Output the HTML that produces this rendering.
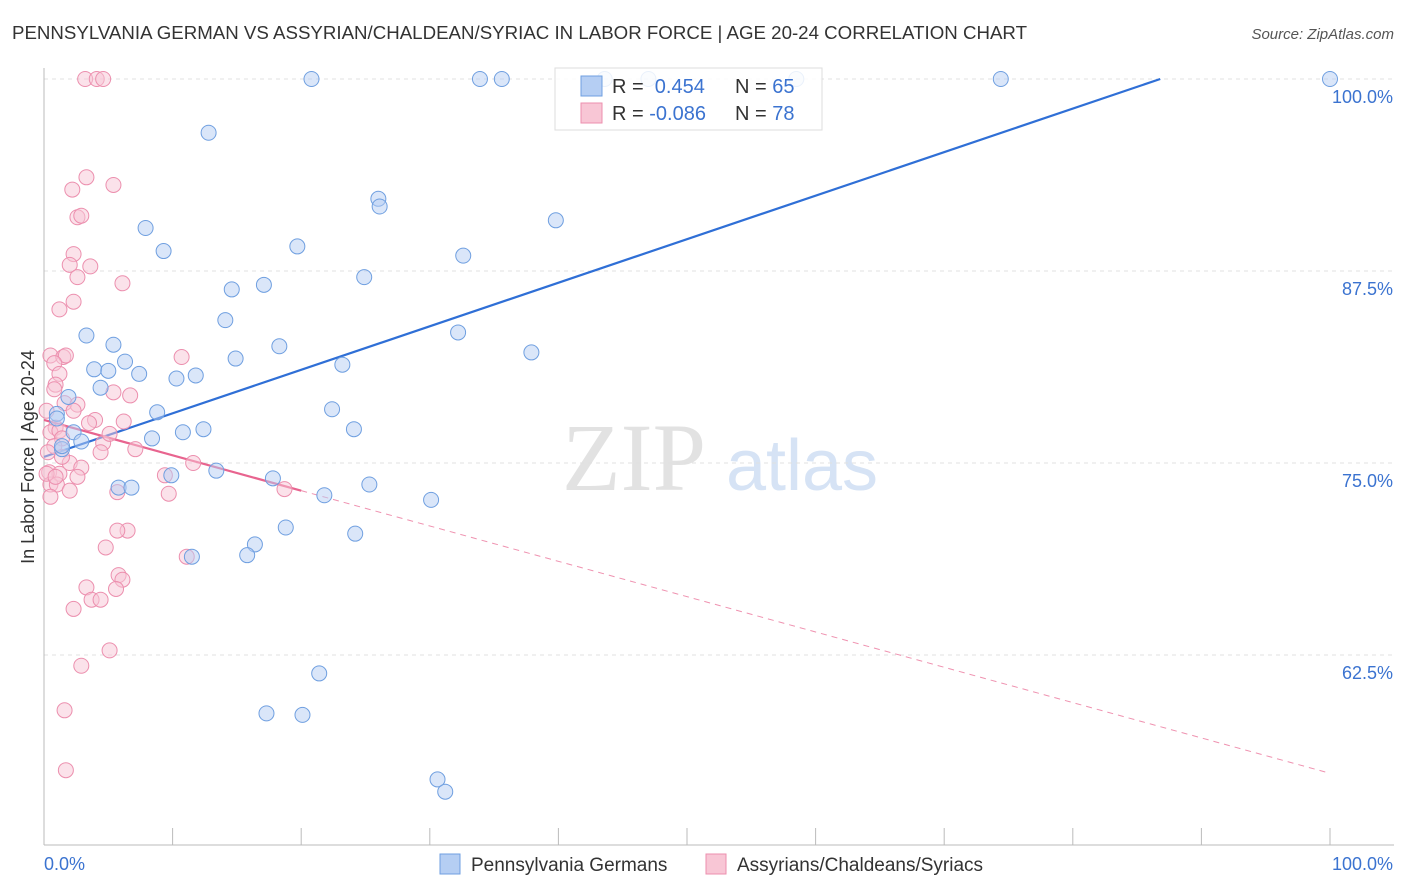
<!DOCTYPE html>
<html><head><meta charset="utf-8"><style>
body{margin:0;background:#fff;font-family:"Liberation Sans",sans-serif;}
svg{display:block}
</style></head><body>
<svg id="chart" width="1406" height="892" xmlns="http://www.w3.org/2000/svg">
<text x="12" y="39" font-size="18" fill="#333" textLength="1015" lengthAdjust="spacingAndGlyphs">PENNSYLVANIA GERMAN VS ASSYRIAN/CHALDEAN/SYRIAC IN LABOR FORCE | AGE 20-24 CORRELATION CHART</text>
<text x="1394" y="39" font-size="15" fill="#555" font-style="italic" text-anchor="end">Source: ZipAtlas.com</text>
<text x="34" y="457" font-size="18" fill="#333" text-anchor="middle" transform="rotate(-90 34 457)">In Labor Force | Age 20-24</text>
<g><text x="634" y="490" font-size="96" fill="#e2e2e2" font-family="Liberation Serif,serif" text-anchor="middle">ZIP</text><text x="802" y="490" font-size="72" fill="#d6e3f5" text-anchor="middle">atlas</text></g>
<g id="grid"></g><g id="axes"></g><g id="lines"></g><g id="pts"></g>
<g>
<rect x="555" y="68" width="267" height="62" fill="#fff" fill-opacity="0.85" stroke="#ddd"/>
<rect x="581" y="76" width="21" height="20" fill="#b5cef3" stroke="#6f9fe0"/>
<rect x="581" y="103" width="21" height="20" fill="#f8c6d5" stroke="#ec8fae"/>
<text x="612" y="93" font-size="20" fill="#333">R = <tspan fill="#3b73d0">&#160;0.454</tspan><tspan x="735">N = </tspan><tspan fill="#3b73d0">65</tspan></text>
<text x="612" y="120" font-size="20" fill="#333">R = <tspan fill="#3b73d0">-0.086</tspan><tspan x="735">N = </tspan><tspan fill="#3b73d0">78</tspan></text>
</g>
<g>
<rect x="440" y="854" width="20" height="20" fill="#b5cef3" stroke="#6f9fe0"/>
<text x="471" y="871" font-size="19" fill="#333">Pennsylvania Germans</text>
<rect x="706" y="854" width="20" height="20" fill="#f8c6d5" stroke="#ec8fae"/>
<text x="737" y="871" font-size="19" fill="#333">Assyrians/Chaldeans/Syriacs</text>
</g>
</svg>
<script>
const yTicks=[100,87.5,75,62.5];
const yTickLabels=["100.0%","87.5%","75.0%","62.5%"];
const blueX=[20.8,33.9,35.6,43.6,47,58.5,74.4,100,12.8,26,26.1,39.8,7.9,9.3,19.7,32.6,24.9,14.6,17.1,14.1,32.2,3.3,5.4,18.3,37.9,14.9,6.3,3.9,5,23.2,7.4,10.3,11.8,4.4,1.9,8.8,22.4,1,24.1,12.4,10.8,8.4,2.3,2.9,1.4,9.9,13.4,17.8,25.3,5.8,6.8,21.8,30.1,18.8,24.2,16.4,15.8,11.5,21.4,17.3,20.1,30.6,31.2,1,1.4];
const blueY=[100,100,100,100,100,100,100,100,96.5,92.2,91.7,90.8,90.3,88.8,89.1,88.5,87.1,86.3,86.6,84.3,83.5,83.3,82.7,82.6,82.2,81.8,81.6,81.1,81,81.4,80.8,80.5,80.7,79.9,79.3,78.3,78.5,78.2,77.2,77.2,77,76.6,77,76.4,75.9,74.2,74.5,74,73.6,73.4,73.4,72.9,72.6,70.8,70.4,69.7,69,68.9,61.3,58.7,58.6,54.4,53.6,77.9,76.1];
const pinkX=[3.2,4.1,4.6,3.3,5.4,2.2,2.6,2.9,2.3,2,3.6,2.6,6.1,2.3,1.2,0.5,1.5,1.7,10.7,0.8,1.2,0.9,0.8,5.4,6.7,1.6,2.6,0.2,2.3,3.970,3.5,0.9,0.5,1.2,4.6,7.1,1.4,0.8,0.3,4.4,2,2.9,9.4,11.6,0.4,1.2,2.6,0.5,1,5.7,9.7,2,0.5,18.7,6.5,5.7,4.8,11.1,5.8,6.1,3.3,5.6,3.7,4.4,2.3,5.1,2.9,1.6,1.7,0.2,0.9,1.4,5.1,6.2];
const pinkY=[100,100,100,93.6,93.1,92.8,91,91.1,88.6,87.9,87.8,87.1,86.7,85.5,85,82,81.9,82,81.9,81.5,80.8,80.1,79.8,79.6,79.4,78.9,78.8,78.4,78.4,77.8,77.6,77.3,77,77.1,76.3,75.9,76.6,76.1,75.7,75.7,75,74.7,74.2,75,74.4,74.3,74.1,73.6,73.6,73.1,73,73.2,72.8,73.3,70.6,70.6,69.5,68.9,67.7,67.4,66.9,66.8,66.1,66.1,65.5,62.8,61.8,58.9,55,74.3,74.1,75.4,76.9,77.7];
const blueLine=[0,75.4,86.8,100];
const pinkLine=[0,77.8,100,54.8];
const pinkSolidEnd=20;
const X=v=>44+v*12.86, Y=v=>79+(100-v)*192/12.5;
const NS="http://www.w3.org/2000/svg";
function mk(p,t,a){const e=document.createElementNS(NS,t);for(const k in a)e.setAttribute(k,a[k]);p.appendChild(e);return e;}
const grid=document.getElementById('grid'),axes=document.getElementById('axes'),lines=document.getElementById('lines'),pts=document.getElementById('pts');
yTicks.forEach((t,i)=>{
 const g=mk(grid,'line',{x1:44,x2:1394,y1:Y(t),y2:Y(t),stroke:'#e0e0e0','stroke-dasharray':'4 4'});
 
 
 const l=mk(axes,'text',{x:1393,y:Y(t)+24,'font-size':18,fill:'#3b73d0','text-anchor':'end'});l.textContent=yTickLabels[i];
 
 
});
const ya=mk(axes,'line',{x1:44,x2:44,y1:68,y2:845,stroke:'#bbb'});


const xa=mk(axes,'line',{x1:44,x2:1394,y1:845,y2:845,stroke:'#bbb'});


for(let i=0;i<=10;i++){const t=mk(axes,'line',{x1:X(i*10),x2:X(i*10),y1:828,y2:845,stroke:'#bbb'});
 
 }
[["0.0%",44,'start'],["100.0%",1393,'end']].forEach(a=>{const l=mk(axes,'text',{x:a[1],y:870,'font-size':18,fill:'#3b73d0','text-anchor':a[2]});l.textContent=a[0];
 
 });
const pc=pinkX.length;
for(let i=0;i<pc;i++){const c=mk(pts,'circle',{cx:X(pinkX[i]),cy:Y(pinkY[i]),r:7.5,fill:'#f8c6d5','fill-opacity':0.5,stroke:'#ec8fae','stroke-width':1});
 
 }
for(let i=0;i<blueX.length;i++){const c=mk(pts,'circle',{cx:X(blueX[i]),cy:Y(blueY[i]),r:7.5,fill:'#b5cef3','fill-opacity':0.5,stroke:'#6f9fe0','stroke-width':1});
 
 }
const bl=mk(lines,'line',{x1:X(blueLine[0]),y1:Y(blueLine[1]),x2:X(blueLine[2]),y2:Y(blueLine[3]),stroke:'#2f6fd6','stroke-width':2.2});


const pAt=x=>pinkLine[1]+(pinkLine[3]-pinkLine[1])*(x-pinkLine[0])/(pinkLine[2]-pinkLine[0]);
const ps=mk(lines,'line',{x1:X(0),y1:Y(pAt(0)),x2:X(pinkSolidEnd),y2:Y(pAt(pinkSolidEnd)),stroke:'#e8648f','stroke-width':2.2});


const pd=mk(lines,'line',{x1:X(pinkSolidEnd),y1:Y(pAt(pinkSolidEnd)),x2:X(100),y2:Y(pAt(100)),stroke:'#e8648f','stroke-width':1,'stroke-dasharray':'6 5','stroke-opacity':0.7});


</script>
</body></html>
